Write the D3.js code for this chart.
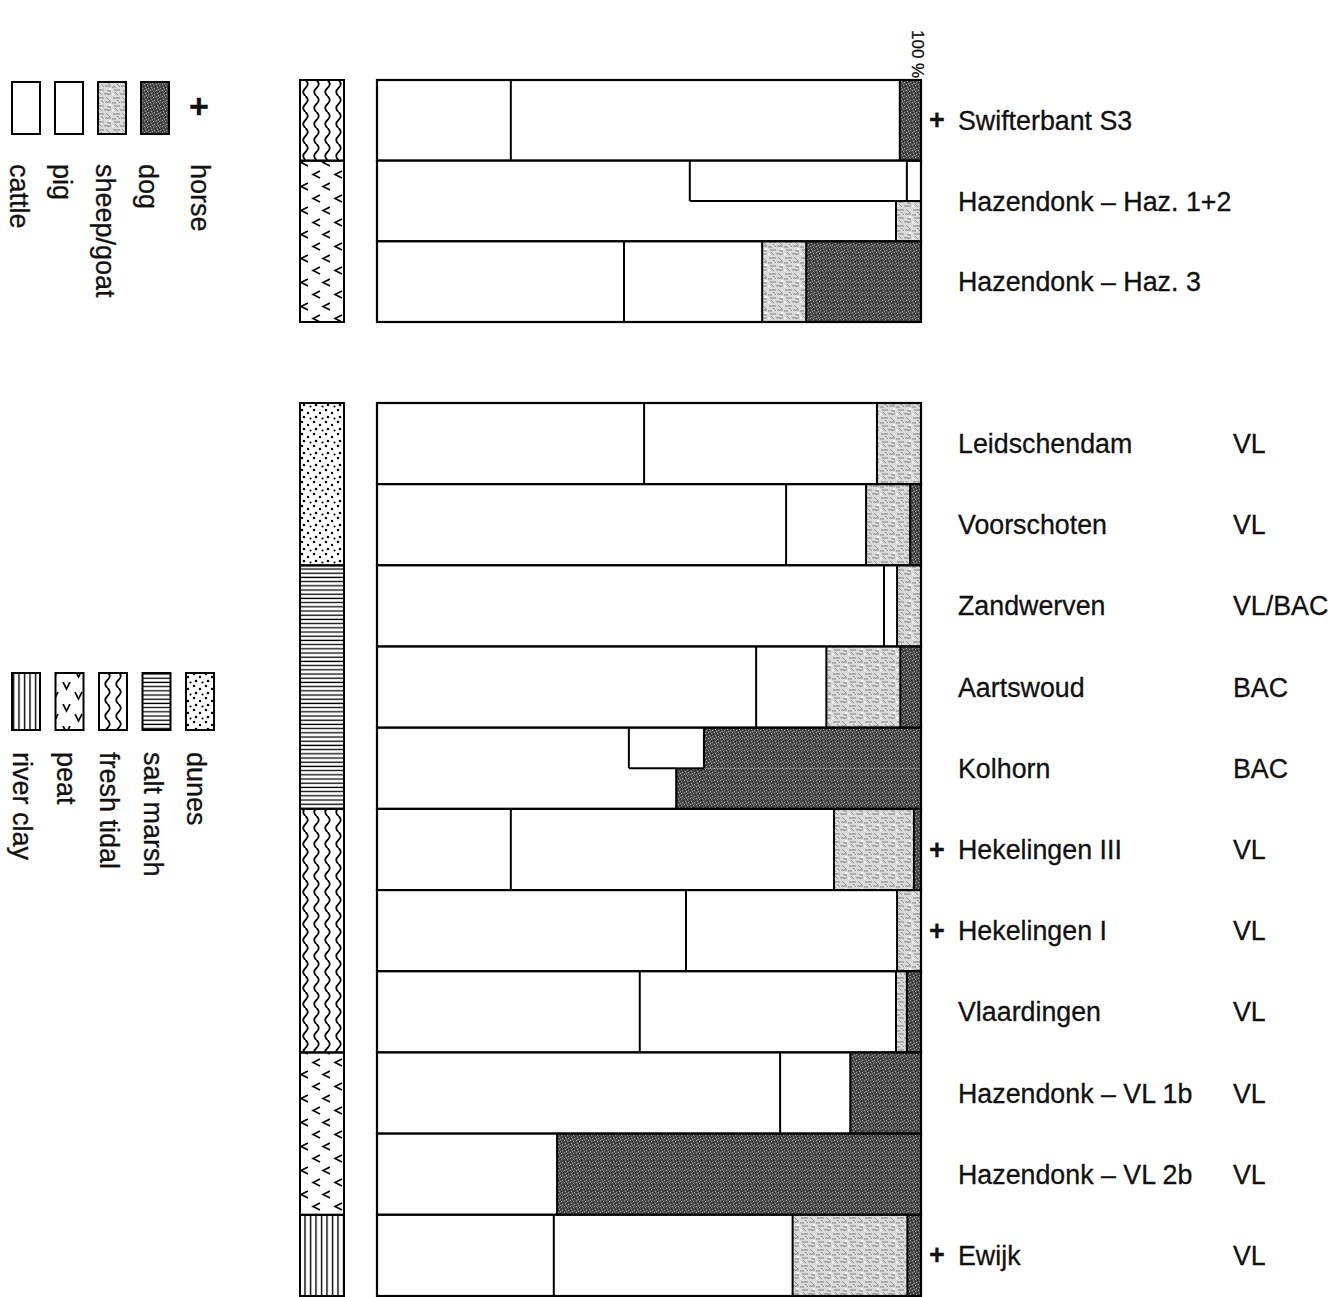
<!DOCTYPE html>
<html>
<head>
<meta charset="utf-8">
<script src="https://cdn.jsdelivr.net/npm/d3@7"></script>
<style>
  body { margin: 0; background: #fff; }
  text { font-family: 'Liberation Sans', Arial, Helvetica, sans-serif; fill: #111; stroke: #111; stroke-width: 0.3px; }
</style>
</head>
<body>
<div id="chart"></div>
<script>
// sites, top to bottom; first three form the upper block
const sites = ['Swifterbant S3', 'Hazendonk – Haz. 1+2', 'Hazendonk – Haz. 3',
  'Leidschendam', 'Voorschoten', 'Zandwerven', 'Aartswoud', 'Kolhorn',
  'Hekelingen III', 'Hekelingen I', 'Vlaardingen', 'Hazendonk – VL 1b', 'Hazendonk – VL 2b', 'Ewijk']
const upperBlock = sites.slice(0, 3)
const lowerBlock = sites.slice(3)
const cultures = ['', '', '', 'VL', 'VL', 'VL/BAC', 'BAC', 'BAC', 'VL', 'VL', 'VL', 'VL', 'VL', 'VL']
const habitats = ['fresh tidal', 'peat', 'peat', 'dunes', 'dunes', 'salt marsh', 'salt marsh', 'salt marsh',
  'fresh tidal', 'fresh tidal', 'fresh tidal', 'peat', 'peat', 'river clay']
const horse = [1, 0, 0, 0, 0, 0, 0, 0, 1, 1, 0, 0, 0, 1]

// percentages
const cattle    = [24.6, 57.5, 45.4, 49.1, 75.2, 93.2, 69.7, 46.3, 24.6, 56.8, 48.3, 74.1, 33.1, 32.5]
const pig       = [71.5, 39.9, 25.4, 42.8, 14.7,  2.4, 12.9, 13.8, 59.4, 38.8, 47.1, 12.9,  0.0, 43.9]
const sheepGoat = [ 0.0,  0.0,  8.1,  8.1,  8.1,  4.4, 13.6,  0.0, 14.7,  4.4,  2.0,  0.0,  0.0, 21.1]
const dog       = [ 3.9,  0.0, 21.1,  0.0,  2.0,  0.0,  3.8, 39.9,  1.3,  0.0,  2.6, 13.0, 66.9,  2.5]

// second estimate, drawn in the lower half of the row
const splitSites     = ['Hazendonk – Haz. 1+2', 'Kolhorn']
const splitCattle    = [95.4, 55.0]
const splitPig       = [0, 0]
const splitSheepGoat = [4.6, 0]
const splitDog       = [0, 45.0]

const animals = ['cattle', 'pig', 'sheep/goat', 'dog']
const habitatLegend = ['river clay', 'peat', 'fresh tidal', 'salt marsh', 'dunes']

const width = 1342
const height = 1297

const svg = d3.select('#chart').append('svg')
  .attr('width', width)
  .attr('height', height)

const defs = svg.append('defs')

// dog: dark mottled screen
const pDog = defs.append('pattern').attr('id', 'dog').attr('patternUnits', 'userSpaceOnUse')
  .attr('width', 6).attr('height', 6)
pDog.append('rect').attr('width', 6).attr('height', 6).attr('fill', '#4e4e4e')
pDog.append('path').attr('d', 'M0,0h1v1h-1z M3,1h1v1h-1z M1,3h1v1h-1z M4,4h1v1h-1z M2,5h1v1h-1z').attr('fill', '#999')
pDog.append('path').attr('d', 'M2,1h1v1h-1z M5,2h1v1h-1z M0,4h1v1h-1z M3,3h1v1h-1z').attr('fill', '#262626')

// sheep/goat: light grey hatching
const pSheep = defs.append('pattern').attr('id', 'sheep').attr('patternUnits', 'userSpaceOnUse')
  .attr('width', 16).attr('height', 16)
pSheep.append('rect').attr('width', 16).attr('height', 16).attr('fill', '#dadada')
pSheep.append('path')
  .attr('d', 'M1,2h7 M9,6h6 M2,10h6 M8,14h7 M0,7h4 M11,11h4')
  .attr('stroke', '#808080').attr('stroke-width', 1)
pSheep.append('path')
  .attr('d', 'M10,1l4,4 M3,12l3,3 M5,4l3,3')
  .attr('stroke', '#909090').attr('stroke-width', 1)
pSheep.append('path')
  .attr('d', 'M13,8h2v2h-2z M0,13h2v2h-2z')
  .attr('fill', '#fff')

// habitats
const pDunes = defs.append('pattern').attr('id', 'dunes').attr('patternUnits', 'userSpaceOnUse')
  .attr('width', 12).attr('height', 12)
pDunes.append('circle').attr('cx', 2).attr('cy', 2).attr('r', 1.3)
pDunes.append('circle').attr('cx', 8).attr('cy', 5).attr('r', 1.2)
pDunes.append('circle').attr('cx', 4).attr('cy', 9).attr('r', 1.3)
pDunes.append('circle').attr('cx', 10.5).attr('cy', 10.5).attr('r', 1.1)

const pSalt = defs.append('pattern').attr('id', 'salt').attr('patternUnits', 'userSpaceOnUse')
  .attr('width', 10).attr('height', 4.2)
pSalt.append('path').attr('d', 'M0,2h10').attr('stroke', '#000').attr('stroke-width', 1.3)

const pTidal = defs.append('pattern').attr('id', 'tidal').attr('patternUnits', 'userSpaceOnUse')
  .attr('width', 11).attr('height', 16).attr('x', 300)
pTidal.append('path').attr('d', 'M5.5,0 q4.5,4 0,8 q-4.5,4 0,8').attr('fill', 'none')
  .attr('stroke', '#000').attr('stroke-width', 1.8)

const pPeat = defs.append('pattern').attr('id', 'peat').attr('patternUnits', 'userSpaceOnUse')
  .attr('width', 22).attr('height', 24)
pPeat.append('path').attr('d', 'M12,3 L5,6.5 L12,10 M22,15 L15,18.5 L22,22')
  .attr('fill', 'none').attr('stroke', '#000').attr('stroke-width', 1.6)

const pPeatLegend = defs.append('pattern').attr('id', 'peatLegend').attr('patternUnits', 'userSpaceOnUse')
  .attr('width', 22).attr('height', 24).attr('patternTransform', 'rotate(-90)')
pPeatLegend.append('path').attr('d', 'M12,3 L5,6.5 L12,10 M22,15 L15,18.5 L22,22')
  .attr('fill', 'none').attr('stroke', '#000').attr('stroke-width', 1.6)

const pClay = defs.append('pattern').attr('id', 'clay').attr('patternUnits', 'userSpaceOnUse')
  .attr('width', 5.5).attr('height', 10)
pClay.append('path').attr('d', 'M2.5,0v10').attr('stroke', '#000').attr('stroke-width', 1.4)

const habitatFill = {
  'dunes': 'url(#dunes)', 'salt marsh': 'url(#salt)', 'fresh tidal': 'url(#tidal)',
  'peat': 'url(#peat)', 'river clay': 'url(#clay)',
}
const animalFill = { 'cattle': '#fff', 'pig': '#fff', 'sheep/goat': 'url(#sheep)', 'dog': 'url(#dog)' }

// scales
const x = d3.scaleLinear().domain([0, 100]).range([377, 921])
const yUpper = d3.scaleBand().domain(upperBlock).range([80, 322])
const yLower = d3.scaleBand().domain(lowerBlock).range([403, 1296])
const yOf = (s) => (upperBlock.includes(s) ? yUpper(s) : yLower(s))
const bandH = (s) => (upperBlock.includes(s) ? yUpper.bandwidth() : yLower.bandwidth())

function stack(vals) {
  let acc = 0
  return vals.map((v, k) => {
    const seg = { cat: animals[k], x0: acc, x1: acc + v }
    acc += v
    return seg
  }).filter((d) => d.x1 - d.x0 > 0)
}

function catAt(segs, p) {
  const s = segs.find((d) => p >= d.x0 && p < d.x1)
  return s ? s.cat : 'blank'
}

// habitat column
const hab = svg.append('g')
const runs = []
sites.forEach((s, i) => {
  const last = runs[runs.length - 1]
  const sameBlock = last && upperBlock.includes(last.first) === upperBlock.includes(s)
  if (last && sameBlock && last.habitat === habitats[i]) last.last = s
  else runs.push({ habitat: habitats[i], first: s, last: s })
})
hab.selectAll('rect').data(runs).join('rect')
  .attr('x', 300).attr('width', 44)
  .attr('y', (d) => yOf(d.first))
  .attr('height', (d) => yOf(d.last) + bandH(d.last) - yOf(d.first))
  .attr('fill', (d) => habitatFill[d.habitat])
  .attr('stroke', '#000').attr('stroke-width', 2)

// bars
const bars = svg.append('g')
sites.forEach((s, i) => {
  const y0 = yOf(s)
  const h = bandH(s)
  const top = stack([cattle[i], pig[i], sheepGoat[i], dog[i]])
  const j = splitSites.indexOf(s)
  const bands = j < 0
    ? [{ segs: top, y: y0, h: h }]
    : [{ segs: top, y: y0, h: h / 2 },
       { segs: stack([splitCattle[j], splitPig[j], splitSheepGoat[j], splitDog[j]]), y: y0 + h / 2, h: h / 2 }]

  const g = bars.append('g')
  bands.forEach((b) => {
    g.selectAll(null).data(b.segs).join('rect')
      .attr('x', (d) => x(d.x0)).attr('width', (d) => x(d.x1) - x(d.x0))
      .attr('y', b.y).attr('height', b.h)
      .attr('fill', (d) => animalFill[d.cat])
    g.selectAll(null).data(b.segs.filter((d) => d.x1 < 99.95)).join('line')
      .attr('x1', (d) => x(d.x1)).attr('x2', (d) => x(d.x1))
      .attr('y1', b.y).attr('y2', b.y + b.h)
      .attr('stroke', '#000').attr('stroke-width', 2)
  })
  if (bands.length === 2) {
    const cuts = Array.from(new Set([0, 100, ...bands[0].segs.map((d) => d.x1), ...bands[1].segs.map((d) => d.x1)]))
      .filter((v) => v <= 100).sort((a, b) => a - b)
    const diffs = d3.pairs(cuts).filter(([a, b]) => catAt(bands[0].segs, (a + b) / 2) !== catAt(bands[1].segs, (a + b) / 2))
    g.selectAll(null).data(diffs).join('line')
      .attr('x1', (d) => x(d[0])).attr('x2', (d) => x(d[1]))
      .attr('y1', y0 + h / 2).attr('y2', y0 + h / 2)
      .attr('stroke', '#000').attr('stroke-width', 2)
  }
  g.append('rect')
    .attr('x', x(0)).attr('width', x(100) - x(0))
    .attr('y', y0).attr('height', h)
    .attr('fill', 'none').attr('stroke', '#000').attr('stroke-width', 2.2)
})

// 100 % mark
svg.append('text')
  .attr('transform', `translate(${x(100) - 9},30) rotate(90)`)
  .style('font-size', '17px')
  .text('100 %')

// labels
const labels = svg.append('g')
labels.selectAll('.site').data(sites).join('text')
  .attr('class', 'site')
  .attr('x', 958)
  .attr('y', (d) => yOf(d) + bandH(d) / 2 + 9.5)
  .style('font-size', '26.8px')
  .text((d) => d)
labels.selectAll('.culture').data(sites).join('text')
  .attr('class', 'culture')
  .attr('x', 1233)
  .attr('y', (d) => yOf(d) + bandH(d) / 2 + 9.5)
  .style('font-size', '26.8px')
  .text((d, i) => cultures[i])
labels.selectAll('.horse').data(sites.filter((d, i) => horse[i])).join('text')
  .attr('class', 'horse')
  .attr('x', 937).attr('text-anchor', 'middle')
  .attr('y', (d) => yOf(d) + bandH(d) / 2 + 9)
  .style('font-size', '27px').style('font-weight', 'bold')
  .text('+')

// animal legend
const legA = svg.append('g')
const legAx = d3.scalePoint().domain(animals).range([12, 141])
legA.selectAll('rect').data(animals).join('rect')
  .attr('x', (d) => legAx(d)).attr('y', 82).attr('width', 28).attr('height', 52)
  .attr('fill', (d) => animalFill[d]).attr('stroke', '#000').attr('stroke-width', 2)
legA.selectAll('text').data(animals).join('text')
  .attr('transform', (d) => `translate(${legAx(d) - 2},164) rotate(90)`)
  .style('font-size', '27px')
  .text((d) => d)
legA.append('text').attr('x', 199).attr('y', 118).attr('text-anchor', 'middle')
  .style('font-size', '34px').style('font-weight', 'bold').text('+')
legA.append('text').attr('transform', 'translate(191,164) rotate(90)')
  .style('font-size', '27px').text('horse')

// habitat legend
const legH = svg.append('g')
const legHx = d3.scalePoint().domain(habitatLegend).range([12, 186])
legH.selectAll('rect').data(habitatLegend).join('rect')
  .attr('x', (d) => legHx(d)).attr('y', 673).attr('width', 28).attr('height', 57)
  .attr('fill', (d) => (d === 'peat' ? 'url(#peatLegend)' : habitatFill[d]))
  .attr('stroke', '#000').attr('stroke-width', 2)
legH.selectAll('text').data(habitatLegend).join('text')
  .attr('transform', (d) => `translate(${legHx(d) + 1},752) rotate(90)`)
  .style('font-size', '27px')
  .text((d) => d)
</script>
</body>
</html>
